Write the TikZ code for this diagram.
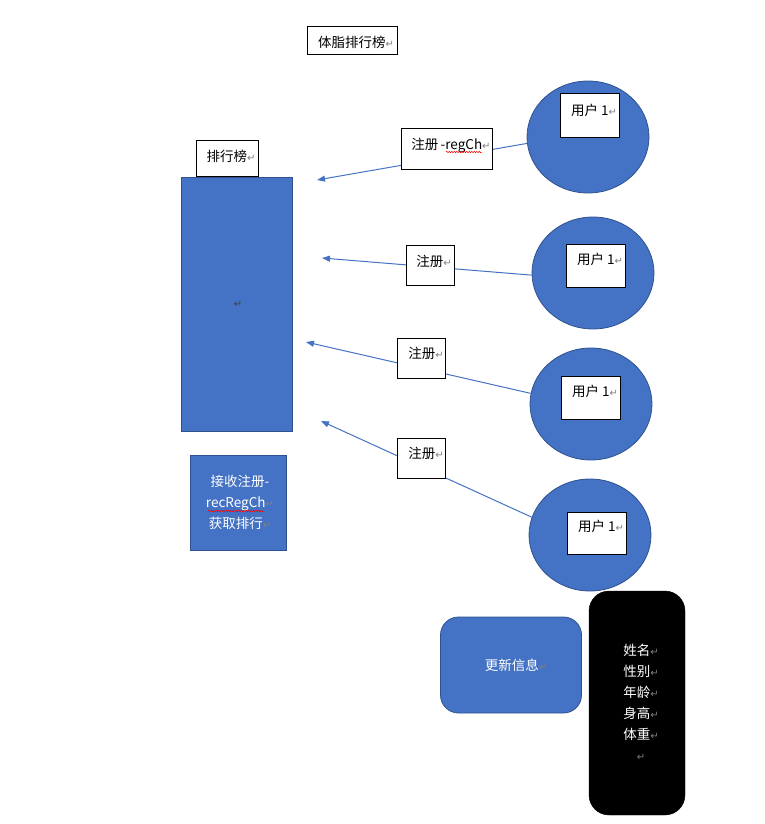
\documentclass[tikz,border=0pt]{standalone}
\usepackage{fontspec}
\usepackage{tikz}
\usetikzlibrary{arrows.meta,shapes.geometric,decorations.pathmorphing}
\newfontfamily\cjk{Noto Sans CJK SC}
\newfontfamily\markfont{DejaVu Sans}
\definecolor{officeblue}{HTML}{4472C4}
\definecolor{officeedge}{HTML}{2F528F}
\newcommand{\parmark}{{\markfont\fontsize{10}{10}\selectfont\textcolor{gray}{↵}}}

\tikzset{
  whitebox/.style={draw=black, fill=white, line width=1pt, inner sep=0pt},
  bluebox/.style={draw=officeedge, fill=officeblue, line width=0.8pt, inner sep=0pt},
  usercircle/.style={ellipse, draw=officeedge, fill=officeblue, line width=0.8pt, inner sep=0pt},
  txt/.style={font={\cjk\fontsize{13.5}{21}\selectfont}, inner sep=0pt},
  reglink/.style={draw=officeblue, line width=1pt, -{Triangle[length=8pt,width=6pt]}},
  spell/.style={draw=red, line width=0.5pt, decorate, decoration={snake, amplitude=0.7pt, segment length=2.5pt}}
}

\begin{document}
\begin{tikzpicture}[x=1pt, y=-1pt]
        \useasboundingbox (0,0) rectangle (764,824);

        % Titulo
        \node[whitebox, minimum width=90pt, minimum height=28pt] (title) at (352,41) {};
        \node[txt] (titletext) at (356,42) {体脂排行榜\parmark};

        % Tabla de ranking
        \node[bluebox, minimum width=111pt, minimum height=254pt] (rank) at (236.5,304) {};
        \node[text=darkgray] (rankmark) at (238,304) {{\markfont\fontsize{10}{10}\selectfont ↵}};
        \node[whitebox, minimum width=62pt, minimum height=36pt] (ranklabel) at (227,158) {};
        \node[txt] (ranklabeltext) at (231,156) {排行榜\parmark};

        % Recepcion de registros
        \node[bluebox, minimum width=96pt, minimum height=95pt] (recv) at (238,502.5) {};
        \node[txt, text=white, align=center] (recvtext) at (240,502) {接收注册-\\recRegCh\parmark\\获取排行\parmark};
        \draw[spell] (208,511) -- (264,511);

        % Usuarios
        \node[usercircle, minimum width=122pt, minimum height=112pt] (c1) at (588,137) {};
        \node[usercircle, minimum width=122pt, minimum height=112pt] (c2) at (593,273) {};
        \node[usercircle, minimum width=122pt, minimum height=112pt] (c3) at (591,404) {};
        \node[usercircle, minimum width=122pt, minimum height=112pt] (c4) at (590,535) {};

        \node[whitebox, minimum width=59pt, minimum height=43pt] (u1) at (589.5,115.5) {};
        \node[txt] (u1text) at (594,110) {用户 1\parmark};
        \node[whitebox, minimum width=59pt, minimum height=43pt] (u2) at (595.5,265.5) {};
        \node[txt] (u2text) at (600,259) {用户 1\parmark};
        \node[whitebox, minimum width=59pt, minimum height=43pt] (u3) at (590.5,397.5) {};
        \node[txt] (u3text) at (595,391) {用户 1\parmark};
        \node[whitebox, minimum width=59pt, minimum height=42pt] (u4) at (596.5,533) {};
        \node[txt] (u4text) at (601,526) {用户 1\parmark};

        % Flechas de registro (usuario -> ranking)
        \coordinate (tip1) at (317,180);
        \coordinate (tip2) at (322,258);
        \coordinate (tip3) at (306,342);
        \coordinate (tip4) at (321,421);
        \draw[reglink] (c1.186) -- (tip1);
        \draw[reglink] (c2.182) -- (tip2);
        \draw[reglink] (c3.170) -- (tip3);
        \draw[reglink] (c4.163) -- (tip4);

        % Etiquetas sobre las flechas
        \node[whitebox, minimum width=91pt, minimum height=40pt] (r1) at (446.5,149) {};
        \node[txt] (r1text) at (451,145) {注册\,-regCh\parmark};
        \draw[spell] (446,152) -- (482,152);
        \node[whitebox, minimum width=48pt, minimum height=40pt] (r2) at (430,265) {};
        \node[txt] (r2text) at (434,261) {注册\parmark};
        \node[whitebox, minimum width=48pt, minimum height=40pt] (r3) at (421,358) {};
        \node[txt] (r3text) at (426,353) {注册\parmark};
        \node[whitebox, minimum width=48pt, minimum height=40pt] (r4) at (421,458) {};
        \node[txt] (r4text) at (426,453) {注册\parmark};

        % Actualizar informacion
        \node[bluebox, rounded corners=18pt, minimum width=141pt, minimum height=96pt] (update) at (511,665) {};
        \node[txt, text=white] (updatetext) at (516,665) {更新信息\parmark};

        % Datos del usuario
        \node[draw=black, fill=black, rounded corners=20pt, minimum width=96pt, minimum height=224pt, inner sep=0pt] (info) at (637,703) {};
        \node[txt, text=white, align=center] (infotext) at (641,702) {姓名\parmark\\性别\parmark\\年龄\parmark\\身高\parmark\\体重\parmark\\\parmark};
\end{tikzpicture}
\end{document}
